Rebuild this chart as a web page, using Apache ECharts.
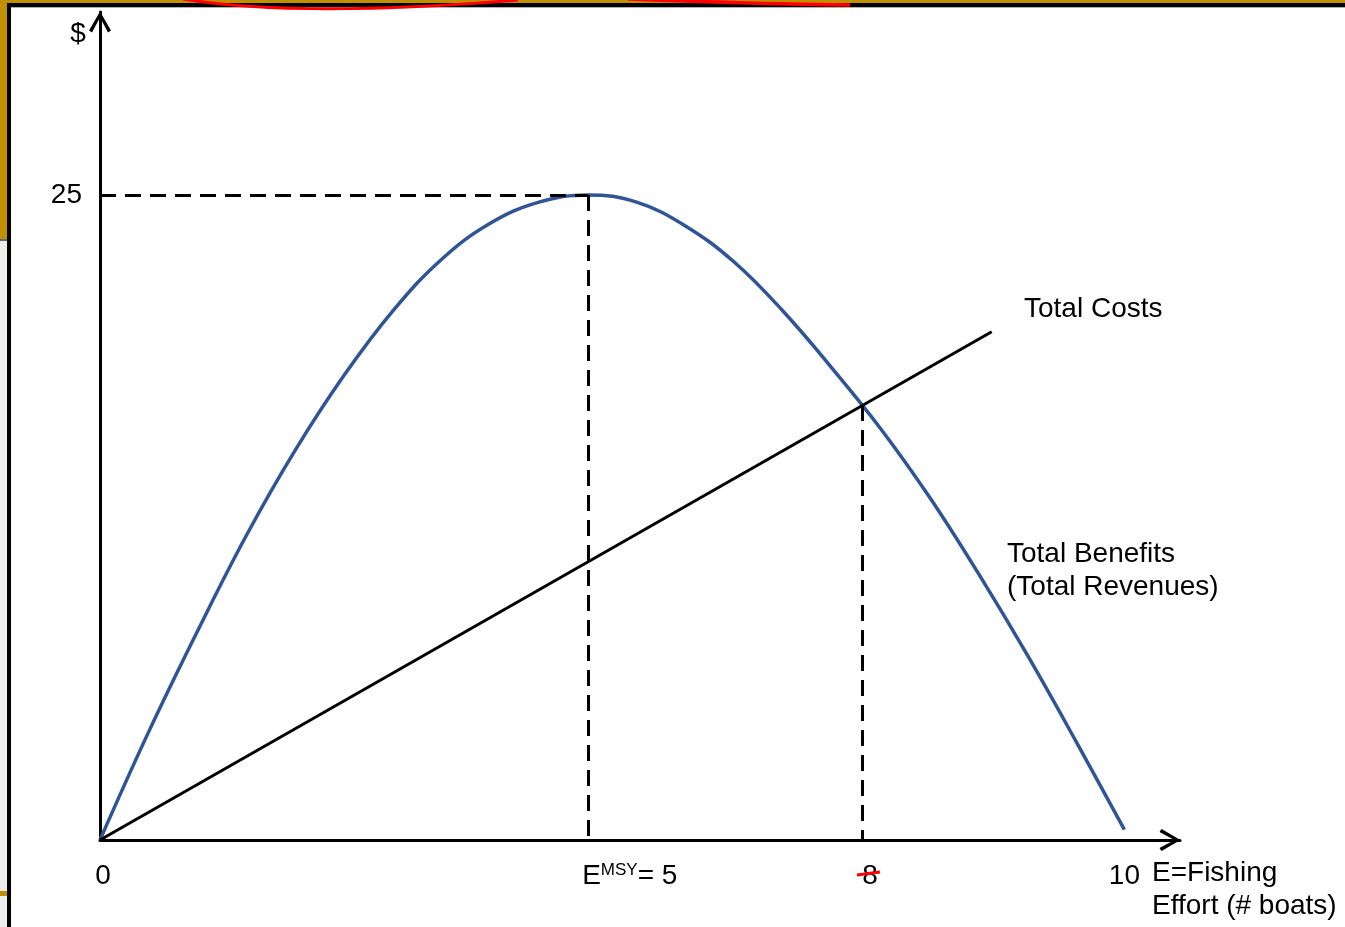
<!DOCTYPE html>
<html>
<head>
<meta charset="utf-8">
<title>Fishing effort</title>
<script src="https://cdn.jsdelivr.net/npm/echarts@6/dist/echarts.min.js"></script>
<style>
  html, body { margin: 0; padding: 0; background: #fff; }
  #main { width: 1345px; height: 927px; }
</style>
</head>
<body>
<div id="main"></div>
<script>
// total benefits (revenues) curve
var benefitX = [0, 0.5, 1, 1.5, 2, 2.5, 3, 3.5, 4, 4.5, 5, 5.5, 6, 6.5, 7, 7.5, 8, 8.5, 9, 9.5, 10, 10.5];
var benefitY = [0, 4.2, 8.1, 11.8, 15.1, 18.0, 20.5, 22.5, 23.9, 24.72, 25, 24.72, 23.8, 22.4, 20.5, 18.3, 15.95, 13.3, 10.35, 7.2, 3.85, 0.4];
// total costs straight line
var costX = [0, 9.14];
var costY = [0, 19.7];
// guide points
var msyPoint = [5, 25];
var breakEven = [7.81, 16.86];
// axis tick labels
var xTickValues = [0, 5, 7.81, 10.5];
var xTickLabels = ['{g0|}0', '{gap|}E{sup|MSY}= 5', '{g8|}8', '10'];
var yTickValues = [25];

var FONT = '"Liberation Sans", Arial, sans-serif';
var SIZE = 28;
var chevron = 'path://M11 0 L22 19 L19 21 L11 6 L3 21 L0 19 Z';

function pairs(xs, ys) {
  var out = [];
  for (var i = 0; i < xs.length; i++) out.push([xs[i], ys[i]]);
  return out;
}

var myChart = echarts.init(document.getElementById('main'), null, { renderer: 'canvas' });

var option = {
  backgroundColor: '#fff',
  animation: false,
  grid: { left: 100, right: 165, top: 12, bottom: 87, containLabel: false },
  xAxis: {
    type: 'value',
    min: 0,
    max: 11.07,
    splitLine: { show: false },
    axisTick: { show: false },
    axisLine: {
      show: true,
      onZero: false,
      symbol: ['none', chevron],
      symbolSize: [22, 21],
      symbolOffset: [0, -10],
      lineStyle: { color: '#000', width: 3 }
    },
    axisLabel: {
      customValues: xTickValues,
      margin: 22,
      color: '#000',
      fontSize: SIZE,
      fontFamily: FONT,
      formatter: function (v) {
        var i = xTickValues.indexOf(v);
        return i >= 0 ? xTickLabels[i] : '';
      },
      rich: {
        gap: { width: 84 },
        g8: { width: 16 },
        g0: { width: 6 },
        sup: { fontSize: 17, fontFamily: FONT, color: '#000', verticalAlign: 'top' }
      }
    }
  },
  yAxis: {
    type: 'value',
    min: 0,
    max: 32.09,
    splitLine: { show: false },
    axisTick: { show: false },
    axisLine: {
      show: true,
      onZero: false,
      symbol: ['none', chevron],
      symbolSize: [22, 21],
      symbolOffset: [0, -10],
      lineStyle: { color: '#000', width: 3 }
    },
    axisLabel: {
      customValues: yTickValues,
      margin: 18,
      color: '#000',
      fontSize: SIZE,
      fontFamily: FONT,
      padding: [3, 0, 0, 0]
    }
  },
  series: [
    {
      name: 'Total Benefits',
      type: 'line',
      data: pairs(benefitX, benefitY),
      smooth: 0.4,
      showSymbol: false,
      lineStyle: { color: '#2F5597', width: 3.5 },
      z: 3
    },
    {
      name: 'Total Costs',
      type: 'line',
      data: pairs(costX, costY),
      showSymbol: false,
      lineStyle: { color: '#000', width: 3 },
      z: 4,
      markLine: {
        silent: true,
        symbol: 'none',
        label: { show: false },
        lineStyle: { color: '#000', width: 3, type: [16, 9] },
        data: [
          [{ coord: [0, msyPoint[1]] }, { coord: msyPoint }],
          [{ coord: msyPoint }, { coord: [msyPoint[0], 0] }],
          [{ coord: breakEven }, { coord: [breakEven[0], 0] }]
        ]
      }
    }
  ],
  graphic: [
    // slide frame
    { type: 'rect', z: 100, shape: { x: 0, y: 0, width: 1345, height: 3 }, style: { fill: '#C09000' } },
    { type: 'rect', z: 100, shape: { x: 0, y: 0, width: 7, height: 239 }, style: { fill: '#C09000' } },
    { type: 'rect', z: 100, shape: { x: 0, y: 239, width: 7, height: 2 }, style: { fill: '#5B6B82' } },
    { type: 'rect', z: 100, shape: { x: 0, y: 241, width: 7, height: 686 }, style: { fill: '#ECECEC' } },
    { type: 'rect', z: 100, shape: { x: 0, y: 891, width: 7, height: 5 }, style: { fill: '#C09000' } },
    { type: 'rect', z: 100, shape: { x: 7, y: 3, width: 1338, height: 4 }, style: { fill: '#000' } },
    { type: 'rect', z: 100, shape: { x: 11, y: 7, width: 1334, height: 1 }, style: { fill: '#B0B0B0' } },
    { type: 'rect', z: 100, shape: { x: 7, y: 3, width: 4, height: 924 }, style: { fill: '#000' } },
    // red scribble on the top edge
    { type: 'bezierCurve', z: 101, shape: { x1: 183, y1: -1, x2: 518, y2: 0, cpx1: 300, cpy1: 18 }, style: { stroke: '#FF0000', lineWidth: 3, fill: null } },
    { type: 'bezierCurve', z: 101, shape: { x1: 628, y1: -1, x2: 850, y2: 5, cpx1: 760, cpy1: 4 }, style: { stroke: '#FF0000', lineWidth: 3.5, fill: null } },
    // annotations
    { type: 'text', z: 50, style: { text: '$', x: 78, y: 34, fill: '#000', font: SIZE + 'px ' + FONT, textAlign: 'center', textVerticalAlign: 'middle' } },
    { type: 'text', z: 50, style: { text: 'Total Costs', x: 1024, y: 309, fill: '#000', font: SIZE + 'px ' + FONT, textVerticalAlign: 'middle' } },
    { type: 'text', z: 50, style: { text: 'Total Benefits\n(Total Revenues)', x: 1007, y: 538, fill: '#000', font: SIZE + 'px ' + FONT, lineHeight: 33, textVerticalAlign: 'top' } },
    { type: 'text', z: 50, style: { text: 'E=Fishing\nEffort (# boats)', x: 1152, y: 857, fill: '#000', font: SIZE + 'px ' + FONT, lineHeight: 33, textVerticalAlign: 'top' } }
  ]
};

option && myChart.setOption(option);

// red strike through the "8" tick label
var p = myChart.convertToPixel({ xAxisIndex: 0, yAxisIndex: 0 }, [breakEven[0], 0]);
option.graphic.push({
  type: 'line', z: 60,
  shape: { x1: p[0] - 5, y1: p[1] + 35, x2: p[0] + 18, y2: p[1] + 32 },
  style: { stroke: '#FF0000', lineWidth: 3 }
});
myChart.setOption({ graphic: option.graphic });
</script>
</body>
</html>
